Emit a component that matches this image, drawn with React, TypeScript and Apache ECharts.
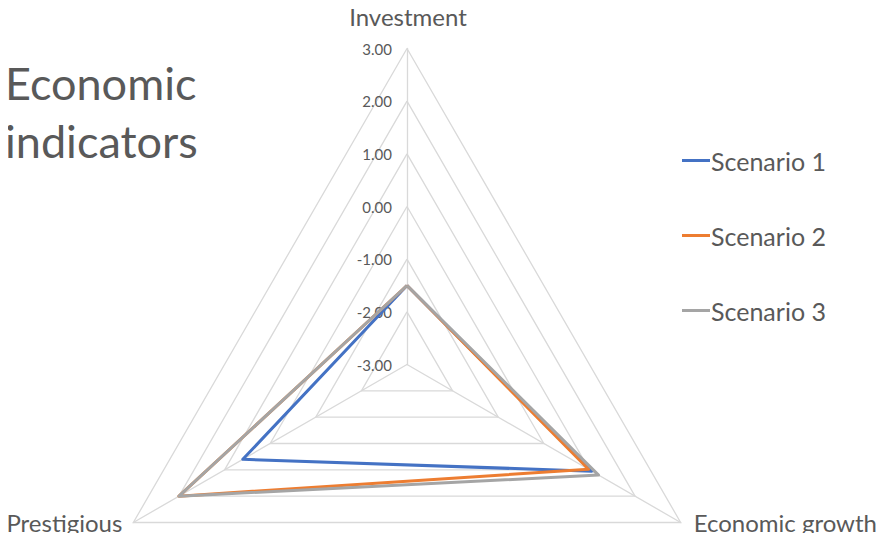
import React, { useEffect, useRef } from "react";
import * as echarts from "echarts";

// Radar axes, in ECharts' counter-clockwise order starting at the top
const indicators = ["Investment", "Prestigious", "Economic growth"];
const seriesNames = ["Scenario 1", "Scenario 2", "Scenario 3"];
const scenario1 = [-1.5, 0.6, 1.05];
const scenario2 = [-1.5, 2.0, 0.98];
const scenario3 = [-1.5, 2.0, 1.2];
const scaleMin = -3;
const scaleMax = 3;
const scaleStep = 1;

const colors = ["#4472C4", "#ED7D31", "#A5A5A5"];
const textColor = "#595959";
const gridColor = "#D9D9D9";
const font = "Lato, 'Open Sans', sans-serif";

const cx = 407;
const cy = 364.5;
const radius = 316;

export default function App() {
  const ref = useRef<HTMLDivElement>(null);

  useEffect(() => {
    if (!ref.current) return;
    const chart = echarts.init(ref.current, null, { renderer: "svg" });
    const values = [scenario1, scenario2, scenario3];

    chart.setOption({
      animation: false,
      color: colors,
      title: {
        text: "Economic\nindicators",
        left: 0,
        top: 49,
        textStyle: {
          fontFamily: font,
          fontSize: 45,
          lineHeight: 58,
          fontWeight: "normal",
          color: textColor,
        },
      },
      legend: {
        data: seriesNames,
        orient: "vertical",
        left: 677,
        top: 143,
        itemWidth: 28,
        itemHeight: 3,
        itemGap: 50,
        icon: "rect",
        textStyle: {
          fontFamily: font,
          fontSize: 25,
          color: textColor,
          padding: [0, 0, 0, -4],
        },
      },
      radar: {
        center: [cx, cy],
        radius: radius,
        shape: "polygon",
        splitNumber: (scaleMax - scaleMin) / scaleStep,
        indicator: indicators.map((name) => ({ name, min: scaleMin, max: scaleMax })),
        nameGap: 0,
        axisName: {
          fontFamily: font,
          fontSize: 24,
          lineHeight: 10,
          color: textColor,
          padding: [3, 11, 27, 13],
        },
        axisLine: { lineStyle: { color: gridColor, width: 1.3 } },
        splitLine: { lineStyle: { color: gridColor, width: 1.3 } },
        splitArea: { show: false },
        axisLabel: { show: false },
        axisTick: { show: false },
      },
      // Vertical value scale laid along the Investment spoke, for its tick labels
      grid: { left: cx, top: cy - radius, height: radius, width: 1 },
      xAxis: { type: "value", show: false },
      yAxis: {
        type: "value",
        min: scaleMin,
        max: scaleMax,
        interval: scaleStep,
        axisLine: { show: false },
        axisTick: { show: false },
        splitLine: { show: false },
        axisLabel: {
          formatter: (v: number) => v.toFixed(2),
          margin: 15,
          fontFamily: font,
          fontSize: 15,
          color: textColor,
        },
      },
      series: [
        {
          type: "radar",
          symbol: "none",
          data: seriesNames.map((name, i) => ({
            name,
            value: values[i],
            lineStyle: { color: colors[i], width: 3 },
          })),
        },
      ],
    });

    return () => chart.dispose();
  }, []);

  return <div ref={ref} style={{ width: 885, height: 541, margin: -8 }} />;
}
